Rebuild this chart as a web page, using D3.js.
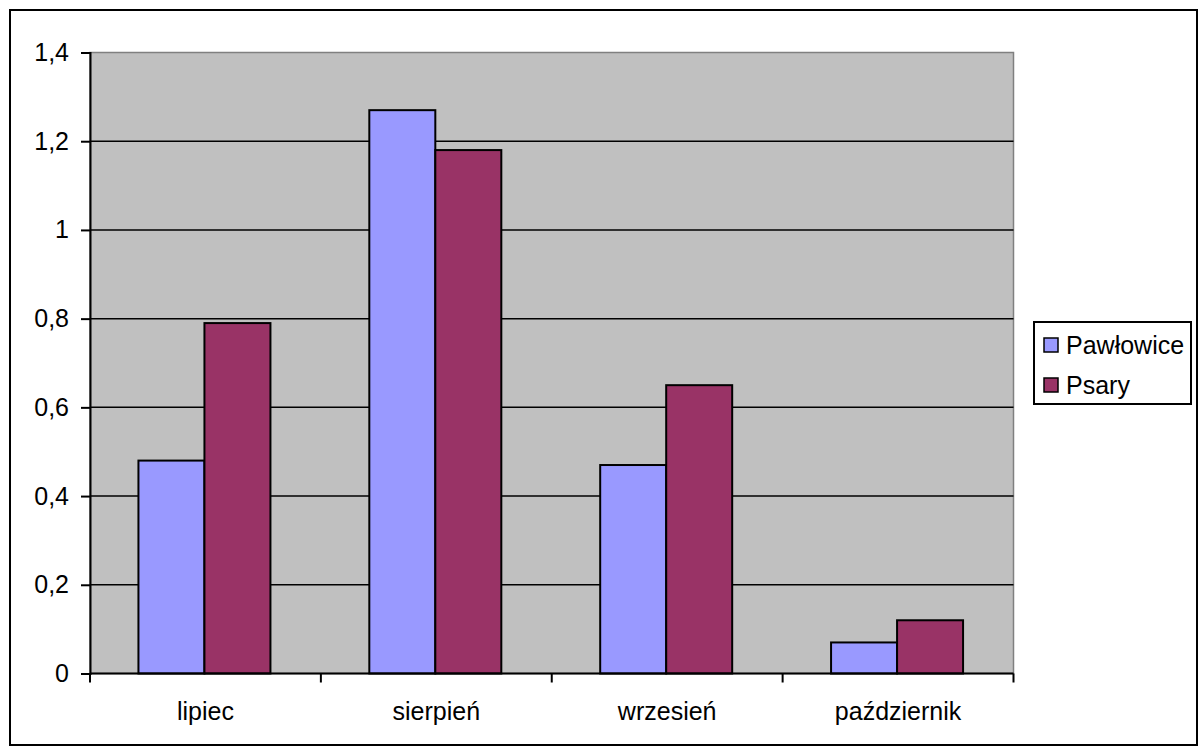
<!DOCTYPE html>
<html>
<head>
<meta charset="utf-8">
<script src="https://cdn.jsdelivr.net/npm/d3@7"></script>
<style>
  html, body { margin: 0; padding: 0; background: #fff; }
  svg { display: block; font-family: "Liberation Sans", Arial, sans-serif; }
</style>
</head>
<body>
<svg id="chart" width="1204" height="747"></svg>
<script>
// Monthly values for the two stations
const months = ["lipiec", "sierpień", "wrzesień", "październik"];
const seriesNames = ["Pawłowice", "Psary"];
const pawlowice = [0.48, 1.27, 0.47, 0.07];
const psary = [0.79, 1.18, 0.65, 0.12];
const yTicks = [0, 0.2, 0.4, 0.6, 0.8, 1.0, 1.2, 1.4];
const colors = ["#9999FF", "#993366"];

const values = [pawlowice, psary];
const svg = d3.select("#chart");
const fontSize = 25;

// Outer chart frame
svg.append("rect")
  .attr("x", 10).attr("y", 10)
  .attr("width", 1187).attr("height", 735)
  .attr("fill", "#fff").attr("stroke", "#000").attr("stroke-width", 2);

const plot = { left: 90, top: 52.5, right: 1013.5, bottom: 673.5 };

const x = d3.scaleBand().domain(months).range([plot.left, plot.right]).paddingInner(0).paddingOuter(0);
const y = d3.scaleLinear().domain([0, 1.4]).range([plot.bottom, plot.top]);

// Plot background
svg.append("rect")
  .attr("x", plot.left).attr("y", plot.top)
  .attr("width", plot.right - plot.left).attr("height", plot.bottom - plot.top)
  .attr("fill", "#C0C0C0").attr("stroke", "#808080").attr("stroke-width", 1.5);

// Horizontal gridlines
svg.append("g").selectAll("line")
  .data(yTicks.filter(d => d > 0 && d < 1.4))
  .join("line")
  .attr("x1", plot.left).attr("x2", plot.right)
  .attr("y1", d => y(d)).attr("y2", d => y(d))
  .attr("stroke", "#000").attr("stroke-width", 1.5);

// Bars
const groupWidth = 132;
const xs = d3.scaleBand().domain(d3.range(seriesNames.length)).range([0, groupWidth]).padding(0);
const groups = svg.append("g").selectAll("g")
  .data(months)
  .join("g")
  .attr("transform", d => `translate(${x(d) + (x.bandwidth() - groupWidth) / 2 - 1},0)`);

groups.selectAll("rect")
  .data((m, i) => values.map((s, k) => ({ k, v: s[i] })))
  .join("rect")
  .attr("x", d => xs(d.k))
  .attr("width", xs.bandwidth())
  .attr("y", d => y(d.v))
  .attr("height", d => y(0) - y(d.v))
  .attr("fill", d => colors[d.k])
  .attr("stroke", "#000").attr("stroke-width", 2);

// Y axis
const yAxis = d3.axisLeft(y)
  .tickValues(yTicks)
  .tickSize(9)
  .tickPadding(12)
  .tickFormat(d => d3.format("~g")(d).replace(".", ","));
const gy = svg.append("g").attr("transform", `translate(${plot.left},0)`).call(yAxis);
gy.select(".domain").attr("stroke", "#000").attr("stroke-width", 2);
gy.selectAll(".tick line").attr("stroke", "#000").attr("stroke-width", 2);
gy.selectAll(".tick text").attr("font-size", fontSize).attr("fill", "#000")
  .attr("font-family", "'Liberation Sans', Arial, sans-serif");

// X axis: ticks at category boundaries
const gx = svg.append("g").attr("transform", `translate(0,${plot.bottom})`);
gx.append("line")
  .attr("x1", plot.left).attr("x2", plot.right)
  .attr("stroke", "#000").attr("stroke-width", 2);
const boundaries = months.map(m => x(m)).concat([x(months[months.length - 1]) + x.bandwidth()]);
gx.selectAll("line.tick")
  .data(boundaries)
  .join("line")
  .attr("class", "tick")
  .attr("x1", d => d).attr("x2", d => d)
  .attr("y1", 0).attr("y2", 9)
  .attr("stroke", "#000").attr("stroke-width", 2);
gx.selectAll("text")
  .data(months)
  .join("text")
  .attr("x", d => x(d) + x.bandwidth() / 2)
  .attr("y", 46)
  .attr("text-anchor", "middle")
  .attr("font-size", fontSize)
  .attr("fill", "#000")
  .text(d => d);

// Legend
const legend = svg.append("g");
legend.append("rect")
  .attr("x", 1034).attr("y", 322)
  .attr("width", 157).attr("height", 82)
  .attr("fill", "#fff").attr("stroke", "#000").attr("stroke-width", 2);
const items = legend.selectAll("g.item")
  .data(seriesNames)
  .join("g")
  .attr("class", "item")
  .attr("transform", (d, i) => `translate(1044,${345 + i * 40})`);
items.append("rect")
  .attr("x", 0).attr("y", -7)
  .attr("width", 14).attr("height", 14)
  .attr("fill", (d, i) => colors[i])
  .attr("stroke", "#000").attr("stroke-width", 1.5);
items.append("text")
  .attr("x", 22).attr("y", 9)
  .attr("font-size", fontSize)
  .attr("fill", "#000")
  .text(d => d);
</script>
</body>
</html>
